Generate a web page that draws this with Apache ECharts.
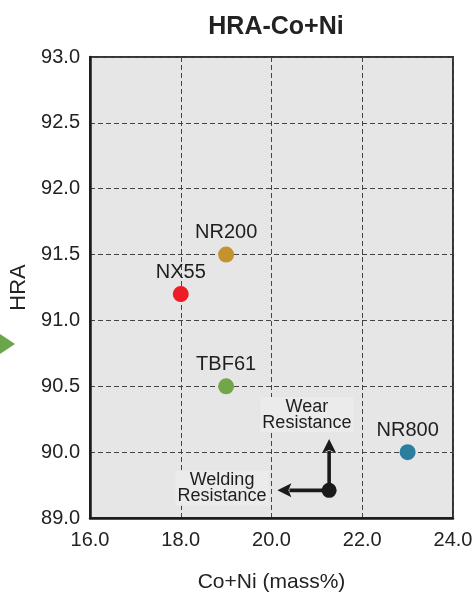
<!DOCTYPE html>
<html>
<head>
<meta charset="utf-8">
<script src="https://cdn.jsdelivr.net/npm/echarts@6/dist/echarts.min.js"></script>
<style>html,body{margin:0;padding:0;background:#fff;}#c{width:475px;height:592px;}</style>
</head>
<body>
<div id="c"></div>
<script>
// ---- data ----
const grades = ['NX55', 'NR200', 'TBF61', 'NR800'];
const coNi = [18, 19, 19, 23];
const hra = [91.2, 91.5, 90.5, 90.0];
const gradeColors = ['#ee1c25', '#c4922e', '#72a64a', '#2a7f9f'];

const yTickValues = [89.5, 90.0, 90.5, 91.0, 91.5, 92.0, 92.5, 93.0];
const yTickLabels = ['89.0', '90.0', '90.5', '91.0', '91.5', '92.0', '92.5', '93.0'];
const xTickLabels = ['16.0', '18.0', '20.0', '22.0', '24.0'];

const arrowOrigin = [21.27, 89.71];
const wearArrowEnd = [21.27, 90.10];
const weldArrowEnd = [20.13, 89.71];
const noteTexts = ['Wear\nResistance', 'Welding\nResistance'];
const notePositions = [[20.78, 90.285], [18.91, 89.725]];

const FONT = '"Liberation Sans", Arial, Helvetica, sans-serif';
const chart = echarts.init(document.getElementById('c'), null, {renderer: 'canvas'});

function yLabel(v) {
  for (let i = 0; i < yTickValues.length; i++) {
    if (Math.abs(yTickValues[i] - v) < 1e-6) return yTickLabels[i];
  }
  return '';
}
function xLabel(v) {
  const i = Math.round((v - 16) / 2);
  return xTickLabels[i] || '';
}

const arrows = [
  [arrowOrigin[0], arrowOrigin[1], wearArrowEnd[0], wearArrowEnd[1]],
  [arrowOrigin[0], arrowOrigin[1], weldArrowEnd[0], weldArrowEnd[1]]
];

chart.setOption({
  animation: false,
  backgroundColor: '#ffffff',
  title: {
    text: 'HRA-Co+Ni',
    left: 271, top: 10, textAlign: 'center',
    textStyle: {fontFamily: FONT, fontSize: 25, fontWeight: 'bold', color: '#222'}
  },
  grid: {
    left: 90, top: 57, right: 22, bottom: 74,
    outerBoundsMode: 'none', containLabel: false,
    show: true, backgroundColor: '#e6e6e7', borderColor: '#333', borderWidth: 2
  },
  graphic: [{
    type: 'polygon',
    shape: {points: [[0, 334], [15, 344], [0, 354]]},
    style: {fill: '#6ca64a'}
  }],
  xAxis: {
    type: 'value', min: 16, max: 24, interval: 2,
    name: 'Co+Ni (mass%)', nameLocation: 'middle', nameGap: 54,
    nameTextStyle: {fontFamily: FONT, fontSize: 21, color: '#222'},
    axisLine: {show: true, lineStyle: {color: '#1a1a1a', width: 2.5}},
    axisTick: {show: false},
    axisLabel: {formatter: xLabel, fontFamily: FONT, fontSize: 20, color: '#222', margin: 12},
    splitLine: {show: true, lineStyle: {color: '#444', type: [5, 3], width: 1}}
  },
  yAxis: {
    type: 'value', min: 89.5, max: 93.0, interval: 0.5,
    name: 'HRA', nameLocation: 'middle', nameGap: 60, nameRotate: 90,
    nameTextStyle: {fontFamily: FONT, fontSize: 22, color: '#222'},
    axisLine: {show: true, lineStyle: {color: '#1a1a1a', width: 2.5}},
    axisTick: {show: false},
    axisLabel: {formatter: yLabel, fontFamily: FONT, fontSize: 20, color: '#222', margin: 10},
    splitLine: {show: true, lineStyle: {color: '#444', type: [5, 3], width: 1}}
  },
  series: [
    {
      type: 'custom',
      renderItem: function (params, api) {
        const p0 = api.coord([api.value(0), api.value(1)]);
        const p1 = api.coord([api.value(2), api.value(3)]);
        const dx = p1[0] - p0[0], dy = p1[1] - p0[1];
        const len = Math.sqrt(dx * dx + dy * dy);
        const ux = dx / len, uy = dy / len;
        const head = 14, half = 7;
        const bx = p1[0] - ux * head, by = p1[1] - uy * head;
        return {
          type: 'group',
          children: [
            {type: 'line', shape: {x1: p0[0], y1: p0[1], x2: bx + ux * 2, y2: by + uy * 2},
             style: {stroke: '#1a1a1a', lineWidth: 3.6}},
            {type: 'polygon', shape: {points: [[p1[0], p1[1]], [bx - uy * half, by + ux * half], [bx + ux * 3, by + uy * 3], [bx + uy * half, by - ux * half]]},
             style: {fill: '#1a1a1a'}}
          ]
        };
      },
      encode: {x: [0, 2], y: [1, 3]},
      data: arrows,
      z: 3
    },
    {
      type: 'scatter',
      symbolSize: 15,
      itemStyle: {color: '#1a1a1a', opacity: 1},
      data: [arrowOrigin],
      z: 4
    },
    {
      type: 'scatter',
      symbolSize: 0,
      itemStyle: {opacity: 1},
      data: notePositions.map((p, i) => ({value: p, name: noteTexts[i]})),
      label: {
        show: true, position: 'inside', formatter: '{b}',
        fontFamily: FONT, fontSize: 18, lineHeight: 16, color: '#1e1e1e',
        backgroundColor: '#ebebeb', padding: [2, 2, 1, 2]
      },
      z: 2
    },
    {
      type: 'scatter',
      symbolSize: 16,
      itemStyle: {opacity: 1},
      data: grades.map((g, i) => ({value: [coNi[i], hra[i]], name: g, itemStyle: {color: gradeColors[i], opacity: 1}})),
      label: {
        show: true, position: 'top', distance: 4, formatter: '{b}',
        fontFamily: FONT, fontSize: 20, color: '#1e1e1e'
      },
      z: 5
    }
  ]
});
</script>
</body>
</html>
